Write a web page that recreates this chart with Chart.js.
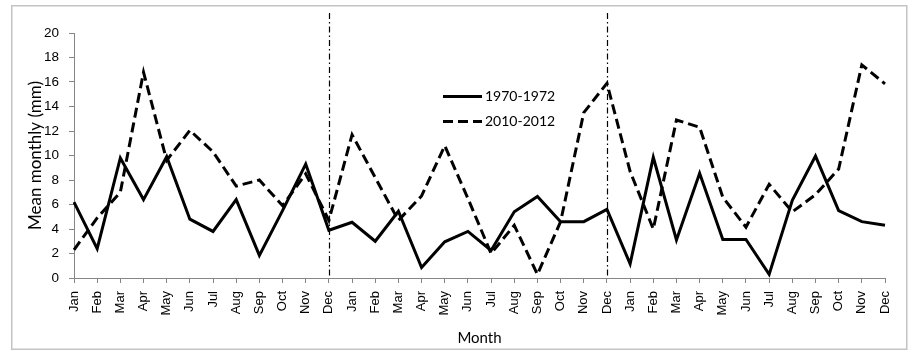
<!DOCTYPE html>
<html><head><meta charset="utf-8">
<script src="https://cdn.jsdelivr.net/npm/chart.js@4"></script>
<style>html,body{margin:0;padding:0;background:#fff;}#wrap{width:916px;height:356px;}</style>
</head><body><div id="wrap"><canvas id="c" width="916" height="356"></canvas></div>
<script>
const monthNames = ['Jan','Feb','Mar','Apr','May','Jun','Jul','Aug','Sep','Oct','Nov','Dec'];
const categories = [].concat(monthNames, monthNames, monthNames);
const series1970 = [6.2, 2.4, 9.8, 6.4, 9.9, 4.8, 3.8, 6.4, 1.85, 5.5, 9.3, 3.9,
                    4.55, 3.0, 5.45, 0.85, 2.95, 3.8, 2.25, 5.4, 6.65, 4.6, 4.6, 5.6,
                    1.15, 9.85, 3.1, 8.55, 3.15, 3.15, 0.3, 6.35, 9.95, 5.5, 4.6, 4.3];
const series2010 = [2.3, 4.9, 7.0, 16.8, 9.6, 12.05, 10.3, 7.5, 8.0, 5.9, 8.5, 4.7,
                    11.7, 8.2, 4.7, 6.7, 10.8, 6.5, 2.0, 4.3, 0.3, 4.6, 13.5, 15.9,
                    8.7, 4.0, 12.9, 12.3, 6.6, 4.15, 7.65, 5.4, 6.8, 8.9, 17.4, 15.85];
const seriesLabels = ['1970-1972', '2010-2012'];
const yTicks = [0, 2, 4, 6, 8, 10, 12, 14, 16, 18, 20];
const dividerIndices = [11, 23];

const framePlugin = {
  id: 'frame',
  beforeDraw(chart) {
    const ctx = chart.ctx;
    ctx.save();
    ctx.fillStyle = '#fff';
    ctx.fillRect(0, 0, chart.width, chart.height);
    ctx.strokeStyle = '#c4c4c4';
    ctx.lineWidth = 1.5;
    ctx.strokeRect(11.75, 5.75, 895, 343.5);
    ctx.restore();
  }
};

const dividerPlugin = {
  id: 'dividers',
  beforeDatasetsDraw(chart) {
    const ctx = chart.ctx, xs = chart.scales.x, area = chart.chartArea;
    ctx.save();
    ctx.strokeStyle = '#000';
    ctx.lineWidth = 1.2;
    ctx.setLineDash([6, 3, 1.5, 3]);
    dividerIndices.forEach(i => {
      const x = Math.round(xs.getPixelForValue(i)) + 0.5;
      ctx.beginPath();
      ctx.moveTo(x, 13);
      ctx.lineTo(x, area.bottom);
      ctx.stroke();
    });
    ctx.restore();
  }
};

const legendPlugin = {
  id: 'customLegend',
  afterDraw(chart) {
    const ctx = chart.ctx;
    const x0 = 443, x1 = 482, ys = [96.5, 121.5];
    ctx.save();
    chart.data.datasets.forEach((ds, i) => {
      ctx.strokeStyle = ds.borderColor;
      ctx.lineWidth = ds.borderWidth;
      ctx.setLineDash(ds.borderDash || []);
      ctx.beginPath();
      ctx.moveTo(x0, ys[i]);
      ctx.lineTo(x1, ys[i]);
      ctx.stroke();
      ctx.setLineDash([]);
      ctx.fillStyle = '#000';
      ctx.font = '14px Lato, "Liberation Sans", sans-serif';
      ctx.textBaseline = 'middle';
      ctx.textAlign = 'left';
      ctx.fillText(ds.label, 485, ys[i]);
    });
    ctx.restore();
  }
};

const axisGrey = '#868686';

new Chart(document.getElementById('c'), {
  type: 'line',
  data: {
    labels: categories,
    datasets: [
      { label: seriesLabels[0], data: series1970, borderColor: '#000', borderWidth: 3,
        pointRadius: 0, tension: 0, fill: false, borderJoinStyle: 'miter', borderCapStyle: 'butt' },
      { label: seriesLabels[1], data: series2010, borderColor: '#000', borderWidth: 3,
        borderDash: [10, 5], pointRadius: 0, tension: 0, fill: false, borderJoinStyle: 'miter', borderCapStyle: 'butt' }
    ]
  },
  options: {
    responsive: false,
    animation: false,
    devicePixelRatio: 1,
    layout: { padding: { left: 0, right: 31, top: 33, bottom: 0 } },
    plugins: { legend: { display: false }, tooltip: { enabled: false } },
    scales: {
      x: {
        offset: false,
        grid: { display: true, drawOnChartArea: false, drawTicks: true, tickLength: 5, color: axisGrey },
        border: { color: axisGrey, width: 1 },
        ticks: { autoSkip: false, maxRotation: 90, minRotation: 90, padding: 8, color: '#000',
                  font: { family: '"Liberation Sans", Arial, sans-serif', size: 13 } },
        title: { display: true, text: 'Month', color: '#000',
                 font: { family: 'Lato, sans-serif', size: 15 }, padding: { top: 0, bottom: 9 } },
        afterFit(s) { s.height = 78; }
      },
      y: {
        min: 0, max: 20,
        afterBuildTicks(s) { s.ticks = yTicks.map(v => ({ value: v })); },
        grid: { display: true, drawOnChartArea: false, drawTicks: true, tickLength: 5, color: axisGrey },
        border: { color: axisGrey, width: 1 },
        ticks: { padding: 10, color: '#000', font: { family: '"Liberation Sans", Arial, sans-serif', size: 13.5 } },
        title: { display: true, text: 'Mean monthly (mm)', color: '#000',
                 font: { family: 'Lato, sans-serif', size: 17 }, padding: { top: 25, bottom: 0 } },
        afterFit(s) { s.width = 74; }
      }
    }
  },
  plugins: [framePlugin, dividerPlugin, legendPlugin]
});
</script>
</body></html>
